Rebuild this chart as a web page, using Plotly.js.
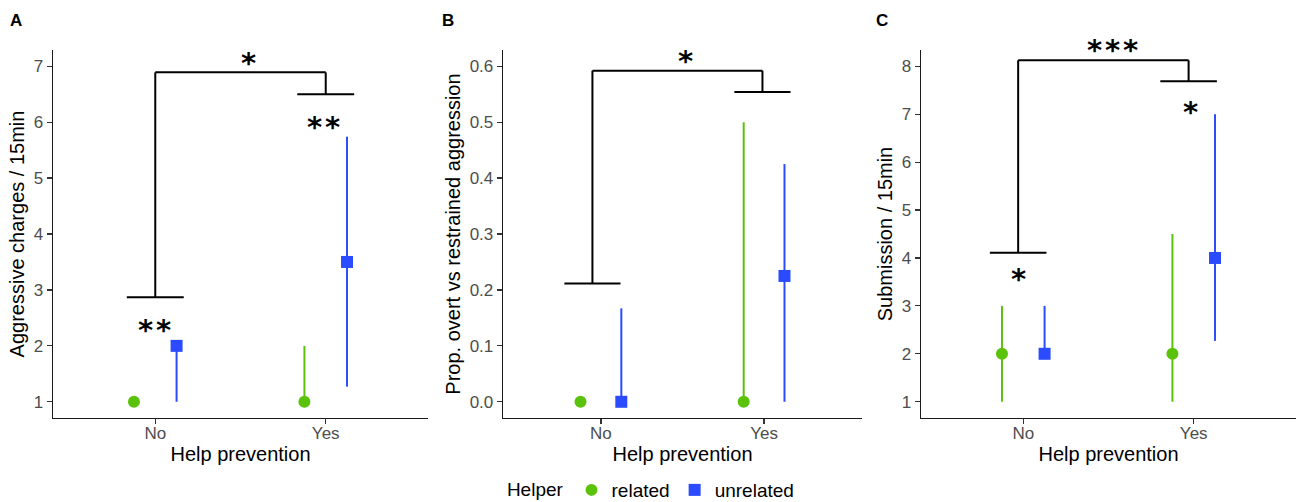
<!DOCTYPE html>
<html>
<head>
<meta charset="utf-8">
<script src="https://cdn.plot.ly/plotly-3.0.1.min.js"></script>
<style>html,body{margin:0;padding:0;background:#fff;}#chart{width:1296px;height:502px;}</style>
</head>
<body>
<div id="chart"></div>
<script>
// ---- data ----
const categories = ['No', 'Yes'];
const seriesNames = ['related', 'unrelated'];

// Panel A: Aggressive charges / 15min
const aggRelated = [1, 1];
const aggRelatedLo = [1, 1];
const aggRelatedHi = [1, 2];
const aggUnrelated = [2, 3.5];
const aggUnrelatedLo = [1, 1.27];
const aggUnrelatedHi = [2, 5.74];

// Panel B: Prop. overt vs restrained aggression
const propRelated = [0, 0];
const propRelatedLo = [0, 0];
const propRelatedHi = [0, 0.5];
const propUnrelated = [0, 0.225];
const propUnrelatedLo = [0, 0];
const propUnrelatedHi = [0.167, 0.425];

// Panel C: Submission / 15min
const subRelated = [2, 2];
const subRelatedLo = [1, 1];
const subRelatedHi = [3, 4.5];
const subUnrelated = [2, 4];
const subUnrelatedLo = [2, 2.27];
const subUnrelatedHi = [3, 7];

// significance brackets: [top level, left foot level, right foot level]
const bracketA = [6.89, 2.87, 6.50];
const bracketB = [0.592, 0.2116, 0.554];
const bracketC = [8.125, 4.11, 7.69];
// significance labels: [overall, No, Yes]
const sigA = ['*', '**', '**'];
const sigB = ['*', '', ''];
const sigC = ['***', '*', '*'];

const yTitles = ['Aggressive charges / 15min', 'Prop. overt vs restrained aggression', 'Submission / 15min'];
const xTitle = 'Help prevention';
const panelLetters = ['A', 'B', 'C'];

// ---- styling ----
const GREEN = '#5BC20C';
const BLUE = '#2A4BFF';
const dodge = 0.125;
const FONT = 'Liberation Sans, Arial, sans-serif';

const panels = [
  {rel: aggRelated, relLo: aggRelatedLo, relHi: aggRelatedHi, un: aggUnrelated, unLo: aggUnrelatedLo, unHi: aggUnrelatedHi,
   br: bracketA, sig: sigA, yrange: [0.71, 7.29], ytick: 1, dom: [53/1296, 428/1296], cen: [1, 2], hw: 0.167,
   sigShift: [16.5, -26, -26], sigDx: [1.544, 0.993, 1.988]},
  {rel: propRelated, relLo: propRelatedLo, relHi: propRelatedHi, un: propUnrelated, unLo: propUnrelatedLo, unHi: propUnrelatedHi,
   br: bracketB, sig: sigB, yrange: [-0.029, 0.629], ytick: 0.1, dom: [503/1296, 862/1296], cen: [0.948, 1.99], hw: 0.172,
   sigShift: [17, 0, 0], sigDx: [1.517, 1, 2]},
  {rel: subRelated, relLo: subRelatedLo, relHi: subRelatedHi, un: subUnrelated, unLo: subUnrelatedLo, unHi: subUnrelatedHi,
   br: bracketC, sig: sigC, yrange: [0.66, 8.34], ytick: 1, dom: [921/1296, 1], cen: [0.97, 1.97], hw: 0.166,
   sigShift: [17, -19, -23.7], sigDx: [1.525, 0.97, 1.98]}
];

const traces = [];
const shapes = [];
const annotations = [];
const layout = {
  width: 1296, height: 502,
  margin: {l: 0, r: 0, t: 0, b: 0, autoexpand: false},
  paper_bgcolor: '#fff', plot_bgcolor: '#fff',
  font: {family: FONT, color: '#000'},
  showlegend: true,
  legend: {
    orientation: 'h', x: 0.503, xanchor: 'center', y: -0.014, yanchor: 'bottom',
    font: {size: 19, color: '#000', family: FONT},
    title: {text: 'Helper', side: 'left', font: {size: 19, color: '#000', family: FONT}},
    itemwidth: 30, tracegroupgap: 0
  }
};

const yDomain = [84/502, 452/502];
const ASTER_OFF = 7;

panels.forEach((p, i) => {
  const s = i === 0 ? '' : String(i + 1);
  const xa = 'x' + s, ya = 'y' + s;
  const xpos = (off) => categories.map((c, k) => k + 1 + off);
  const mk = (vals, lo, hi, name, color, symbol, off, showLeg) => ({
    type: 'scatter', mode: 'markers', x: xpos(off), y: vals, xaxis: xa, yaxis: ya,
    name: name, showlegend: showLeg, legendgroup: name,
    marker: {color: color, size: 12, symbol: symbol},
    error_y: {type: 'data', symmetric: false,
      array: vals.map((v, k) => hi[k] - v), arrayminus: vals.map((v, k) => v - lo[k]),
      color: color, thickness: 2, width: 0},
    cliponaxis: false, hoverinfo: 'skip'
  });
  traces.push(mk(p.rel, p.relLo, p.relHi, seriesNames[0], GREEN, 'circle', -dodge, i === 0));
  traces.push(mk(p.un, p.unLo, p.unHi, seriesNames[1], BLUE, 'square', dodge, i === 0));

  layout['xaxis' + s] = {
    domain: p.dom, anchor: ya, range: [0.4, 2.6], tickvals: [1, 2], ticktext: categories,
    showline: true, linecolor: '#1a1a1a', linewidth: 1.3, ticks: 'outside', ticklen: 5, tickwidth: 1.2, tickcolor: '#333',
    ticklabelstandoff: -6,
    showgrid: false, zeroline: false, fixedrange: true,
    tickfont: {size: 17, color: '#4D4D4D', family: FONT},
    title: {text: xTitle, font: {size: 20, color: '#000', family: FONT}, standoff: 5}
  };
  layout['yaxis' + s] = {
    domain: yDomain, anchor: xa, range: p.yrange, dtick: p.ytick, tick0: 0,
    tickformat: p.ytick < 1 ? '.1f' : 'd',
    showline: true, linecolor: '#1a1a1a', linewidth: 1.3, ticks: 'outside', ticklen: 5, tickwidth: 1.2, tickcolor: '#333',
    showgrid: false, zeroline: false, fixedrange: true,
    tickfont: {size: 17, color: '#4D4D4D', family: FONT},
    title: {text: yTitles[i], font: {size: 20, color: '#000', family: FONT}, standoff: 3}
  };

  const line = (x0, y0, x1, y1) => shapes.push({type: 'line', xref: xa, yref: ya, x0: x0, y0: y0, x1: x1, y1: y1,
    line: {color: '#000', width: 2}});
  const [top, lf, rf] = p.br;
  const [cl, cr] = p.cen;
  line(cl, top, cr, top);
  line(cl, top, cl, lf);
  line(cr, top, cr, rf);
  line(cl - p.hw, lf, cl + p.hw, lf);
  line(cr - p.hw, rf, cr + p.hw, rf);

  const levels = [top, lf, rf];
  p.sig.forEach((t, k) => {
    if (!t) return;
    annotations.push({
      xref: xa, yref: ya, x: p.sigDx[k], y: levels[k], text: '<b>' + t.split('').join('\u200A') + '</b>',
      showarrow: false, xanchor: 'center', yanchor: 'middle', yshift: p.sigShift[k] - ASTER_OFF,
      font: {family: 'DejaVu Sans', size: 29, color: '#000'}
    });
  });

  const letterX = [16, 448, 882][i];
  annotations.push({xref: 'paper', yref: 'paper', x: letterX / 1296, y: (502 - 21) / 502,
    text: '<b>' + panelLetters[i] + '</b>', showarrow: false, xanchor: 'center', yanchor: 'middle',
    font: {family: FONT, size: 17, color: '#000'}});
});

layout.shapes = shapes;
layout.annotations = annotations;

Plotly.newPlot('chart', traces, layout, {staticPlot: true, displayModeBar: false});
</script>
</body>
</html>
